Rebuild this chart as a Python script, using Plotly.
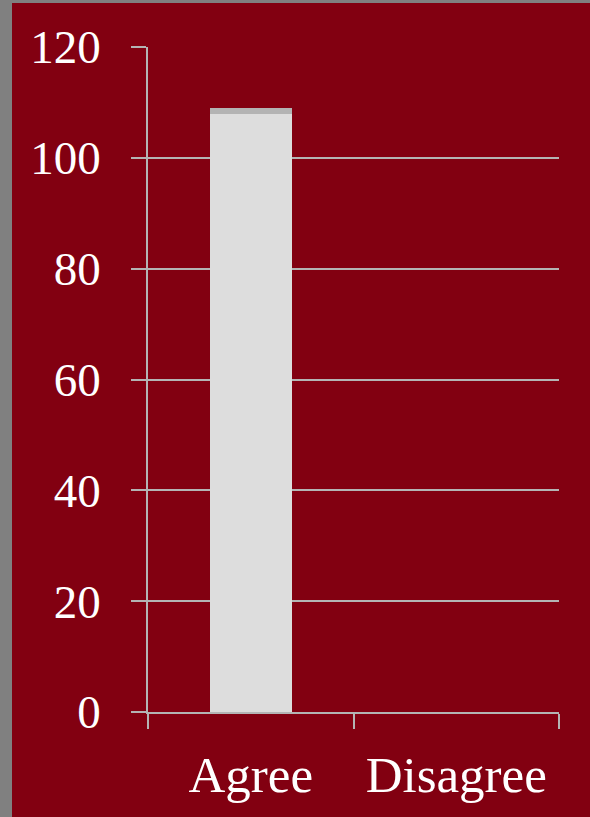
import plotly.graph_objects as go

categories = ["Agree", "Disagree"]
base_values = [108, 0]
top_values = [1, 0]
y_ticks = [0, 20, 40, 60, 80, 100, 120]

RED = "#820011"
GRAY = "#808080"
LINE = "#B4B4B4"
FONT = "Liberation Serif"

fig = go.Figure()
fig.add_trace(go.Bar(x=categories, y=base_values, marker=dict(color="#DDDDDD", line=dict(width=0)), width=0.4))
fig.add_trace(go.Bar(x=categories, y=top_values, marker=dict(color="#B3B3B3", line=dict(width=0)), width=0.4))

W, H = 590, 817
L, R, T, B = 148, 31, 47, 105
pw, ph = W - L - R, H - T - B

fig.update_layout(
    width=W, height=H,
    barmode="stack",
    showlegend=False,
    paper_bgcolor=GRAY,
    plot_bgcolor="rgba(0,0,0,0)",
    margin=dict(l=L, r=R, t=T, b=B, pad=0),
    font=dict(family=FONT, color="white", size=48),
    shapes=[dict(type="rect", xref="paper", yref="paper", layer="below",
                 x0=(12 - L) / pw, x1=(W - L) / pw + 0.01,
                 y0=-(B + 5) / ph, y1=(H - 3 - B) / ph,
                 fillcolor=RED, line=dict(width=0))],
)
fig.update_xaxes(
    type="category", tickson="boundaries", ticks="outside", ticklen=15, tickwidth=1.5,
    tickcolor=LINE, showline=True, linecolor=LINE, linewidth=1.5, showgrid=False,
    ticklabelstandoff=17, tickfont=dict(family=FONT, size=51, color="white"),
)
fig.update_yaxes(
    range=[0, 120], tickvals=y_ticks, ticks="outside", ticklen=15, tickwidth=1.5,
    tickcolor=LINE, showline=True, linecolor=LINE, linewidth=1.5,
    showgrid=True, gridcolor=LINE, gridwidth=1.5, zeroline=False,
    ticklabelstandoff=21, tickfont=dict(family=FONT, size=47, color="white"),
)

fig.write_html("out.html", config={"displayModeBar": False},
               post_script="document.body.style.margin='0';document.body.style.overflow='hidden';")
